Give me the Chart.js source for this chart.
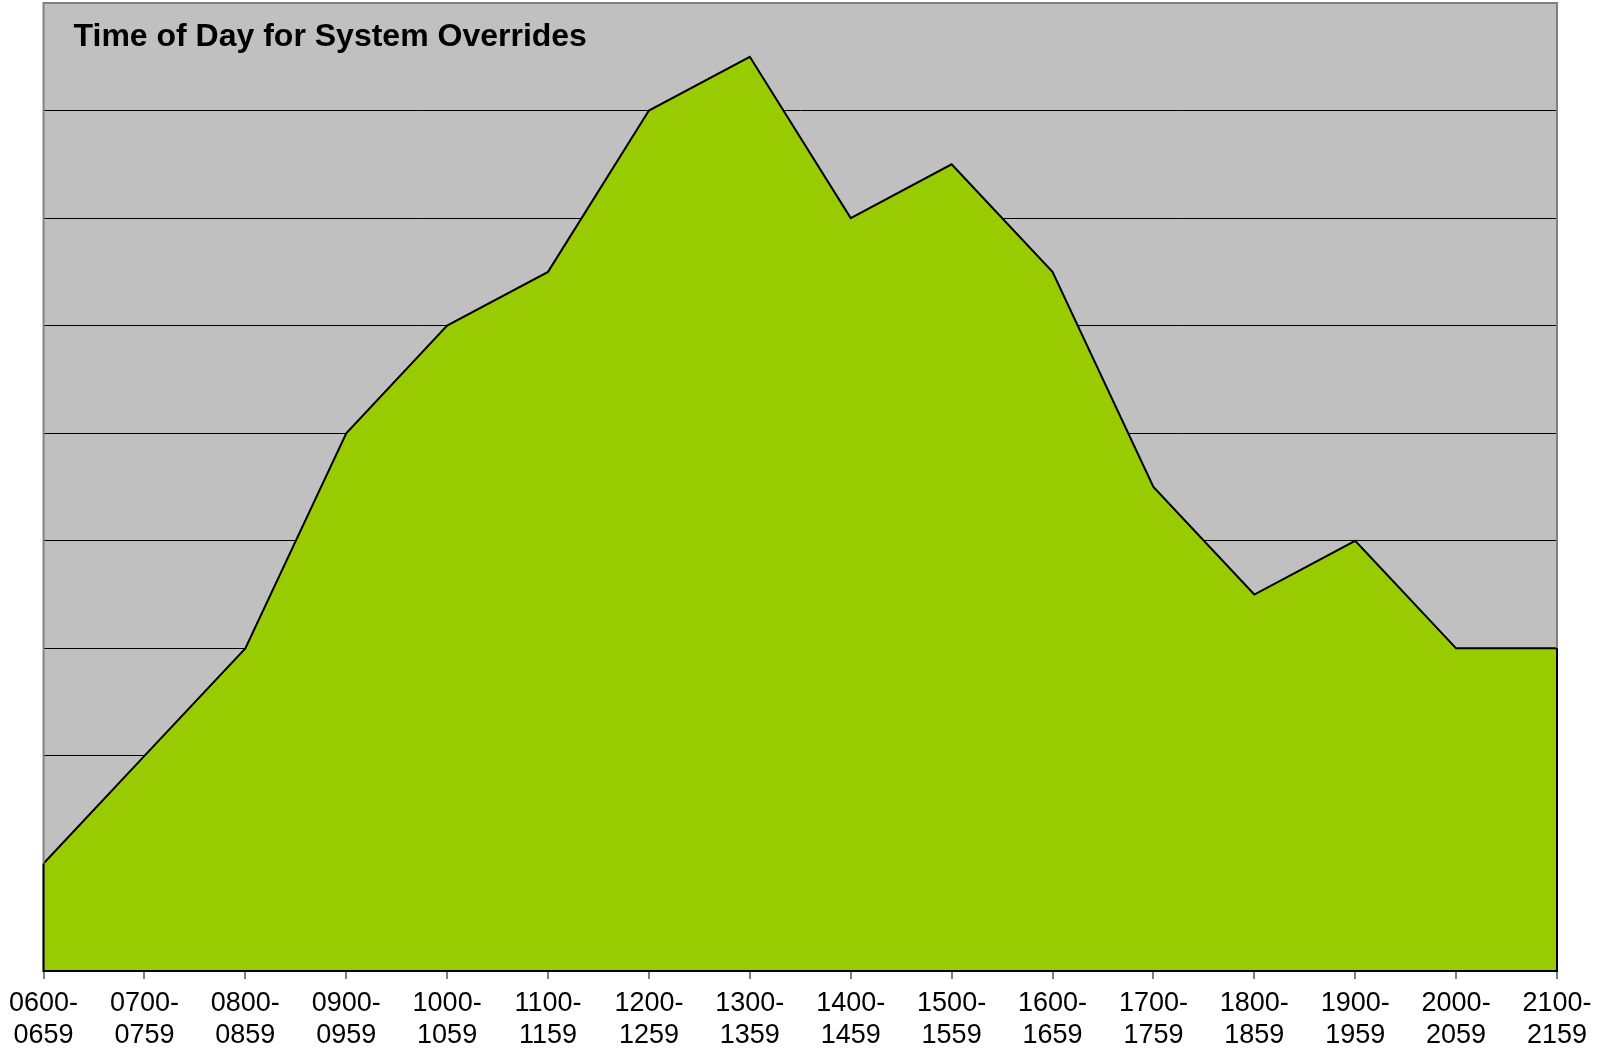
<!DOCTYPE html>
<html>
<head>
<meta charset="utf-8">
<script src="https://cdn.jsdelivr.net/npm/chart.js@4/dist/chart.umd.min.js"></script>
<style>
	html, body { margin: 0; padding: 0; background: #fff; }
	#wrap { width: 1614px; height: 1059px; }
</style>
</head>
<body>
<div id="wrap"><canvas id="overrideChart"></canvas></div>
<script>
// Chart data
let chartTitle = 'Time of Day for System Overrides';
let hourStarts = ['0600-', '0700-', '0800-', '0900-', '1000-', '1100-', '1200-', '1300-',
	'1400-', '1500-', '1600-', '1700-', '1800-', '1900-', '2000-', '2100-'];
let hourEnds = ['0659', '0759', '0859', '0959', '1059', '1159', '1259', '1359',
	'1459', '1559', '1659', '1759', '1859', '1959', '2059', '2159'];
let overrides = [1, 2, 3, 5, 6, 6.5, 8, 8.5, 7, 7.5, 6.5, 4.5, 3.5, 4, 3, 3];
let yMax = 9;

let labels = hourStarts.map((s, i) => [s, hourEnds[i]]);

// Title sits inside the plot, plus the grey frame round it
let framePlugin = {
	id: 'frame',
	beforeDraw(chart) {
		let { ctx, chartArea: a } = chart;
		ctx.save();
		ctx.fillStyle = '#c0c0c0';
		ctx.fillRect(a.left, a.top, a.right - a.left, a.bottom - a.top);
		ctx.restore();
	},
	afterDraw(chart) {
		let { ctx, chartArea: a } = chart;
		let x = chart.scales.x, y = chart.scales.y;
		let last = overrides.length - 1;
		ctx.save();
		ctx.strokeStyle = '#808080';
		ctx.lineWidth = 2;
		ctx.strokeRect(a.left, a.top, a.right - a.left, a.bottom - a.top);
		// closing edges of the area outline
		ctx.strokeStyle = '#000';
		ctx.lineWidth = 2;
		ctx.beginPath();
		ctx.moveTo(x.getPixelForValue(0), y.getPixelForValue(overrides[0]));
		ctx.lineTo(x.getPixelForValue(0), a.bottom);
		ctx.lineTo(x.getPixelForValue(last), a.bottom);
		ctx.lineTo(x.getPixelForValue(last), y.getPixelForValue(overrides[last]));
		ctx.stroke();
		ctx.fillStyle = '#000';
		ctx.font = 'bold 32px "Liberation Sans", Arial, sans-serif';
		ctx.textBaseline = 'alphabetic';
		ctx.fillText(chartTitle, a.left + 30, a.top + 43);
		ctx.restore();
	}
};

let chart = new Chart(document.querySelector('#overrideChart'), {
	type: 'line',
	data: {
		labels: labels,
		datasets: [{
			data: overrides,
			fill: 'origin',
			backgroundColor: '#99cc00',
			borderColor: '#000',
			borderWidth: 2,
			tension: 0,
			pointRadius: 0
		}]
	},
	options: {
		responsive: true,
		maintainAspectRatio: false,
		animation: false,
		layout: { padding: { left: 42, right: 57, top: 3, bottom: 0 } },
		plugins: { legend: { display: false }, tooltip: { enabled: false } },
		scales: {
			x: {
				offset: false,
				afterFit: s => { s.height = 88; },
				grid: { drawOnChartArea: false, drawTicks: true, tickLength: 8, tickColor: '#808080', lineWidth: 2 },
				border: { display: false },
				ticks: {
					maxRotation: 0,
					autoSkip: false,
					color: '#000',
					padding: 9,
					font: { family: '"Liberation Sans", Arial, sans-serif', size: 27, lineHeight: 1.17 }
				}
			},
			y: {
				min: 0,
				max: yMax,
				afterFit: s => { s.width = 0; },
				ticks: { display: false, stepSize: 1 },
				grid: { color: '#000', lineWidth: 1, drawTicks: false },
				border: { display: false }
			}
		}
	},
	plugins: [framePlugin]
});
</script>
</body>
</html>
